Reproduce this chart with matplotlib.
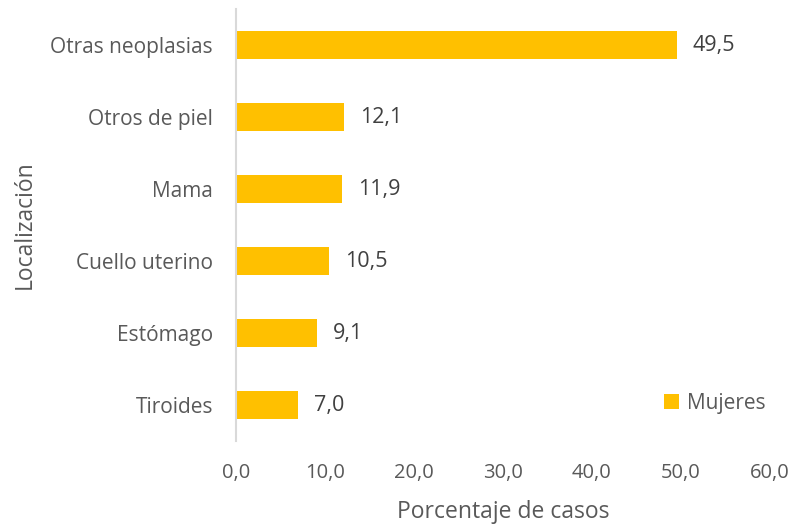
import numpy as np
import matplotlib
matplotlib.use("Agg")
import matplotlib.pyplot as plt

plt.rcParams['font.family'] = ['Open Sans', 'DejaVu Sans']

# datos
categorias = ["Otras neoplasias", "Otros de piel", "Mama", "Cuello uterino", "Estómago", "Tiroides"]
porcentajes = [49.5, 12.1, 11.9, 10.5, 9.1, 7.0]
ticks_x = [0, 10, 20, 30, 40, 50, 60]

gris = '#595959'
amarillo = '#FFC000'

fig = plt.figure(figsize=(7.98, 5.26), dpi=100)
ax = fig.add_axes([236/798, 1-441/526, 534/798, 432/526])

y = np.arange(len(categorias))[::-1]
barras = ax.barh(y, porcentajes, height=0.39, color=amarillo, label='Mujeres')

for yi, v in zip(y, porcentajes):
    ax.text(v + 1.8, yi, f"{v:.1f}".replace('.', ','), va='center', ha='left',
            fontsize=15.5, color='#404040')

ax.set_xlim(0, 60)
ax.set_ylim(-0.5, len(categorias) - 0.5)
ax.set_xticks(ticks_x)
ax.set_xticklabels([f"{t:.1f}".replace('.', ',') for t in ticks_x], fontsize=14.5, color=gris)
ax.set_yticks(y)
ax.set_yticklabels(categorias, fontsize=15, color=gris)
ax.tick_params(axis='both', length=0)
ax.tick_params(axis='x', pad=16)
ax.tick_params(axis='y', pad=16.5)

for s in ['top', 'right', 'bottom']:
    ax.spines[s].set_visible(False)
ax.spines['left'].set_color('#D9D9D9')
ax.spines['left'].set_linewidth(1.5)

ax.set_xlabel("Porcentaje de casos", fontsize=16.5, color=gris, va='center')
ax.set_ylabel("Localización", fontsize=16.5, color=gris, va='center')
ax.xaxis.set_label_coords(0.5, (441-512)/432)
ax.yaxis.set_label_coords((25-236)/534, 0.5)

ax.legend(loc='lower right', bbox_to_anchor=(1.027, 0.02), frameon=False, fontsize=15,
          labelcolor=gris, handlelength=0.7, handleheight=0.7, handletextpad=0.4)

fig.savefig("out.png", dpi=100)
